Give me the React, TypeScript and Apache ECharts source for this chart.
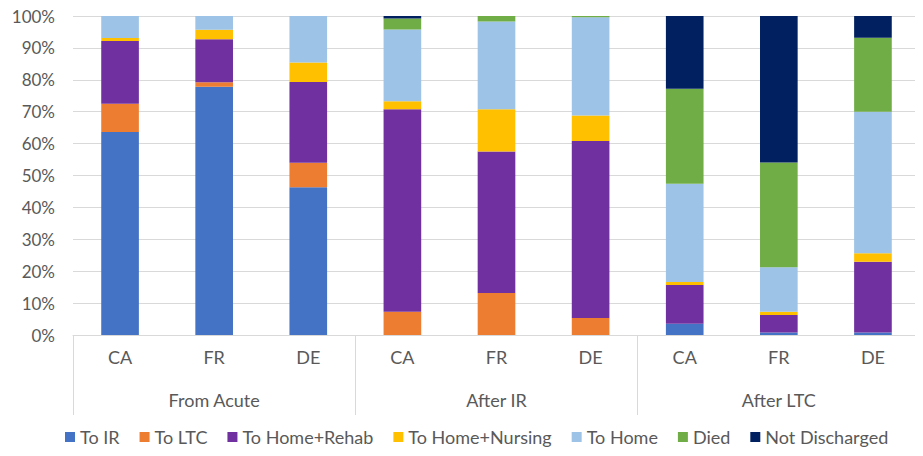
import React, { useEffect, useRef } from "react";
import * as echarts from "echarts";

const categories = ["CA", "FR", "DE", "CA", "FR", "DE", "CA", "FR", "DE"];
const groups = ["From Acute", "After IR", "After LTC"];
const yTicks = [0, 100, 10];

const seriesNames = ["To IR", "To LTC", "To Home+Rehab", "To Home+Nursing", "To Home", "Died", "Not Discharged"];
const colors = ["#4472C4", "#ED7D31", "#7030A0", "#FFC000", "#9DC3E6", "#70AD47", "#002060"];

const toIR = [63.6, 77.8, 46.3, 0, 0, 0, 3.5, 0.8, 0.8];
const toLTC = [8.9, 1.4, 7.7, 7.3, 13.2, 5.3, 0, 0, 0];
const toHomeRehab = [19.7, 13.5, 25.3, 63.5, 44.3, 55.5, 12.2, 5.5, 22.2];
const toHomeNursing = [0.9, 3.0, 6.1, 2.5, 13.3, 8.0, 0.9, 1.0, 2.6];
const toHome = [6.9, 4.3, 14.6, 22.5, 27.5, 30.8, 30.8, 13.9, 44.4];
const died = [0, 0, 0, 3.4, 1.7, 0.4, 29.8, 32.9, 23.2];
const notDischarged = [0, 0, 0, 0.8, 0, 0, 22.8, 45.9, 6.8];

const seriesData = [toIR, toLTC, toHomeRehab, toHomeNursing, toHome, died, notDischarged];

const FONT = "Lato, 'Liberation Sans', sans-serif";
const TEXT = "#595959";
const LINE = "#D9D9D9";

export default function App() {
  const ref = useRef<HTMLDivElement>(null);
  useEffect(() => {
    if (!ref.current) return;
    const chart = echarts.init(ref.current, null, { renderer: "svg" });
    chart.setOption({
      animation: false,
      textStyle: { fontFamily: FONT },
      legend: {
        bottom: 5,
        left: 60,
        itemWidth: 10,
        itemHeight: 10,
        itemGap: 20,
        icon: "rect",
        textStyle: { fontFamily: FONT, fontSize: 18, color: TEXT },
        data: seriesNames,
      },
      grid: { left: 73, right: 3, top: 16, bottom: 121, containLabel: false },
      xAxis: [
        {
          type: "category",
          data: categories,
          position: "bottom",
          axisLine: { show: true, lineStyle: { color: LINE } },
          axisTick: { show: false },
          axisLabel: { margin: 13, fontSize: 18, color: TEXT, fontFamily: FONT },
        },
        {
          type: "category",
          data: groups,
          position: "bottom",
          axisLine: { show: false },
          axisTick: { show: true, length: 80, interval: 0, lineStyle: { color: LINE } },
          axisLabel: { margin: 56, fontSize: 18, color: TEXT, fontFamily: FONT },
        },
      ],
      yAxis: {
        type: "value",
        min: yTicks[0],
        max: yTicks[1],
        interval: yTicks[2],
        axisLine: { show: false },
        axisTick: { show: false },
        splitLine: { lineStyle: { color: LINE, width: 1 } },
        axisLabel: { formatter: "{value}%", margin: 18, fontSize: 17, color: TEXT, fontFamily: FONT },
      },
      series: seriesNames.map((name, i) => ({
        name,
        type: "bar",
        stack: "total",
        xAxisIndex: 0,
        barWidth: "40%",
        itemStyle: { color: colors[i] },
        data: seriesData[i],
      })),
    });
    return () => chart.dispose();
  }, []);
  return <div ref={ref} style={{ width: 923, height: 456, margin: -8 }} />;
}
